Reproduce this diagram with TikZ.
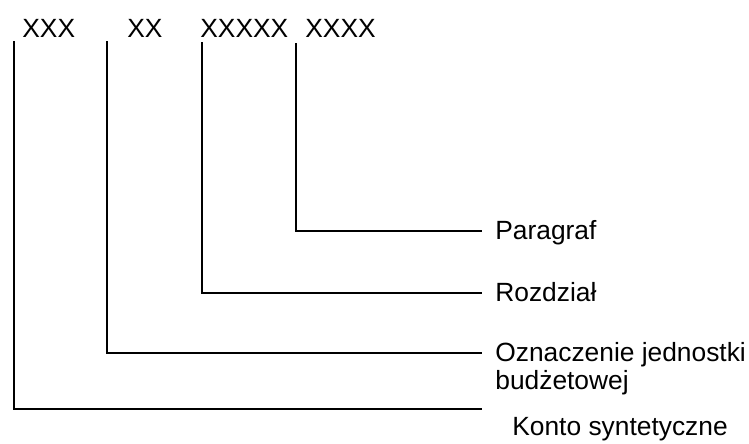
\documentclass[tikz,border=0pt]{standalone}
\usepackage{fontspec}
\setmainfont{Liberation Sans}
\tikzset{
  lbl/.style={anchor=base west, inner sep=0pt, font=\fontsize{15}{16}\selectfont},
  tick/.style={line width=1.2pt}
}
\begin{document}
\begin{tikzpicture}[x=0.02cm, y=-0.02cm]
        \useasboundingbox (0,0) rectangle (749,443);

        % Code groups
        \node[lbl] (kod1) at (22,37) {XXX};
        \node[lbl] (kod2) at (127,37) {XX};
        \node[lbl] (kod3) at (200,37) {XXXXX};
        \node[lbl] (kod4) at (305,37) {XXXX};

        % Labels
        \node[lbl] (par) at (495,239) {Paragraf};
        \node[lbl] (roz) at (495,301) {Rozdział};
        \node[lbl, anchor=north west, align=left] (ozn) at (495,342) {Oznaczenie jednostki\\budżetowej};
        \node[lbl] (kon) at (512,435) {Konto syntetyczne};

        % Line ends
        \coordinate (t1) at (14,41);
        \coordinate (t2) at (107,41);
        \coordinate (t3) at (202,42);
        \coordinate (t4) at (296,43);
        \coordinate (r1) at (482,409);
        \coordinate (r2) at (482,353);
        \coordinate (r3) at (482,293);
        \coordinate (r4) at (482,231);

        \draw[tick] (t1) |- (r1);
        \draw[tick] (t2) |- (r2);
        \draw[tick] (t3) |- (r3);
        \draw[tick] (t4) |- (r4);
    \end{tikzpicture}
\end{document}
